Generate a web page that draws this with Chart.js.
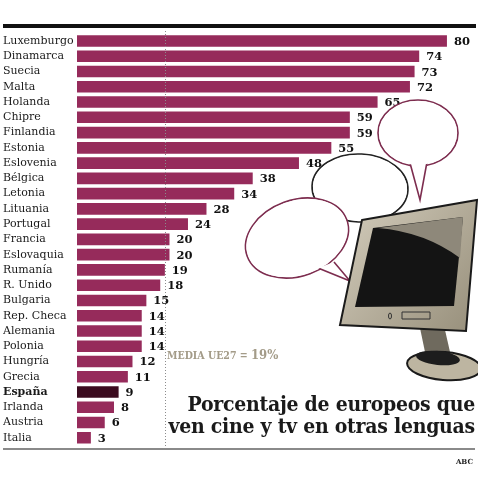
<!DOCTYPE html>
<html>
<head>
<meta charset="utf-8">
<script src="https://cdn.jsdelivr.net/npm/chart.js@4.4.1/dist/chart.umd.min.js"></script>
<style>
  html,body{margin:0;padding:0;background:#fff;}
  #wrap{position:relative;width:478px;height:499px;overflow:hidden;}
  canvas{position:absolute;left:0;top:0;}
  .title{position:absolute;right:3px;top:393px;text-align:right;font-family:"DejaVu Serif Condensed","DejaVu Serif",serif;font-weight:bold;font-size:21px;line-height:22px;color:#1a1a1a;white-space:nowrap;letter-spacing:-0.25px;}
  .media{position:absolute;left:167px;top:347px;font-family:"DejaVu Serif Condensed","DejaVu Serif",serif;font-weight:bold;color:#a39b88;font-size:10.5px;white-space:nowrap;}
  .media b{font-size:13px;font-weight:bold;}
  .abc{position:absolute;right:5px;top:457px;font-family:"DejaVu Serif",serif;font-weight:bold;font-size:7px;color:#222;}
  .topline{position:absolute;left:3px;top:24px;width:473px;height:4px;background:#111;}
  .botline{position:absolute;left:3px;top:448px;width:472px;height:2px;background:#8a8a8a;}
</style>
</head>
<body>
<div id="wrap">
  <canvas id="c" width="478" height="499"></canvas>
  <div class="topline"></div>
  <div class="botline"></div>
  <div class="media">MEDIA UE27 = <b>19%</b></div>
  <div class="title">Porcentaje de europeos que<br>ven cine y tv en otras lenguas</div>
  <div class="abc">ABC</div>
</div>
<script>
const categories = ["Luxemburgo","Dinamarca","Suecia","Malta","Holanda","Chipre","Finlandia","Estonia","Eslovenia","Bélgica","Letonia","Lituania","Portugal","Francia","Eslovaquia","Rumanía","R. Unido","Bulgaria","Rep. Checa","Alemania","Polonia","Hungría","Grecia","España","Irlanda","Austria","Italia"];
const values = [80,74,73,72,65,59,59,55,48,38,34,28,24,20,20,19,18,15,14,14,14,12,11,9,8,6,3];
const highlight = "España";
const mediaUE27 = 19;

const barColor = "#962b5b";
const highlightColor = "#3b0b1f";

const valueLabels = {
  id: "valueLabels",
  afterDatasetsDraw(chart) {
    const ctx = chart.ctx;
    const meta = chart.getDatasetMeta(0);
    ctx.save();
    ctx.font = "bold 11.5px 'DejaVu Serif', serif";
    ctx.fillStyle = "#111";
    ctx.textBaseline = "middle";
    ctx.textAlign = "left";
    meta.data.forEach((bar, i) => {
      ctx.fillText(String(values[i]), bar.x + 7, bar.y + 1);
    });
    ctx.restore();
  }
};

const mediaLine = {
  id: "mediaLine",
  afterDatasetsDraw(chart) {
    const ctx = chart.ctx;
    const x = chart.scales.x.getPixelForValue(mediaUE27);
    ctx.save();
    ctx.strokeStyle = "#8c8c8c";
    ctx.lineWidth = 1;
    ctx.setLineDash([1, 2]);
    ctx.beginPath();
    ctx.moveTo(Math.round(x) + 0.5, 31);
    ctx.lineTo(Math.round(x) + 0.5, 446);
    ctx.stroke();
    ctx.restore();
  }
};

function ellipse(ctx, cx, cy, rx, ry, rot, stroke) {
  ctx.beginPath();
  ctx.ellipse(cx, cy, rx, ry, rot, 0, Math.PI * 2);
  ctx.fillStyle = "#fff";
  ctx.fill();
  ctx.strokeStyle = stroke;
  ctx.lineWidth = 1.6;
  ctx.stroke();
}
function tail(ctx, pts, stroke) {
  ctx.beginPath();
  ctx.moveTo(pts[0][0], pts[0][1]);
  ctx.lineTo(pts[1][0], pts[1][1]);
  ctx.lineTo(pts[2][0], pts[2][1]);
  ctx.fillStyle = "#fff";
  ctx.fill();
  ctx.strokeStyle = stroke;
  ctx.lineWidth = 1.6;
  ctx.stroke();
}

const illustration = {
  id: "illustration",
  afterDraw(chart) {
    const ctx = chart.ctx;
    ctx.save();
    const mag = "#7d2d4f";
    // bubble 1
    ellipse(ctx, 418, 133, 40, 33, 0, mag);
    tail(ctx, [[410, 163], [420, 200], [427, 162]], mag);
    ctx.beginPath(); ctx.ellipse(418, 133, 39, 32, 0, 0, Math.PI * 2); ctx.fillStyle = "#fff"; ctx.fill();
    // bubble 2
    ellipse(ctx, 360, 188, 48, 34, 0.05, "#222");
    tail(ctx, [[362, 219], [374, 234], [380, 217]], "#222");
    ctx.beginPath(); ctx.ellipse(360, 188, 47, 33, 0.05, 0, Math.PI * 2); ctx.fillStyle = "#fff"; ctx.fill();
    // bubble 3
    ellipse(ctx, 297, 238, 53, 38, -0.35, mag);
    tail(ctx, [[318, 268], [350, 281], [334, 262]], mag);
    ctx.beginPath(); ctx.ellipse(297, 238, 52, 37, -0.35, 0, Math.PI * 2); ctx.fillStyle = "#fff"; ctx.fill();

    // monitor stand
    ctx.beginPath();
    ctx.moveTo(420, 328); ctx.lineTo(445, 330); ctx.lineTo(450, 352); ctx.lineTo(425, 352); ctx.closePath();
    ctx.fillStyle = "#6f6a5e"; ctx.fill();
    ctx.beginPath();
    ctx.ellipse(444, 366, 37, 14, 0.08, 0, Math.PI * 2);
    ctx.fillStyle = "#bdb5a1"; ctx.fill();
    ctx.strokeStyle = "#1a1a1a"; ctx.lineWidth = 2; ctx.stroke();
    ctx.beginPath();
    ctx.ellipse(438, 358, 22, 7, 0.1, 0, Math.PI * 2);
    ctx.fillStyle = "#1d1d1d"; ctx.fill();

    // bezel
    ctx.beginPath();
    ctx.moveTo(362, 220); ctx.lineTo(477, 200); ctx.lineTo(466, 331); ctx.lineTo(340, 325); ctx.closePath();
    const g = ctx.createLinearGradient(340, 220, 477, 330);
    g.addColorStop(0, "#d0c9b8"); g.addColorStop(1, "#978f7b");
    ctx.fillStyle = g; ctx.fill();
    ctx.strokeStyle = "#1a1a1a"; ctx.lineWidth = 2; ctx.stroke();
    // screen
    ctx.beginPath();
    ctx.moveTo(373, 228); ctx.lineTo(463, 217); ctx.lineTo(454, 306); ctx.lineTo(355, 307); ctx.closePath();
    ctx.fillStyle = "#141414"; ctx.fill();
    // highlight
    ctx.beginPath();
    ctx.moveTo(378, 228); ctx.lineTo(463, 217); ctx.lineTo(460, 258);
    ctx.quadraticCurveTo(425, 232, 378, 228); ctx.closePath();
    ctx.fillStyle = "#8e887a"; ctx.fill();
    // buttons
    ctx.strokeStyle = "#333"; ctx.lineWidth = 1;
    ctx.beginPath(); ctx.ellipse(390, 316, 1.5, 3, 0, 0, Math.PI * 2); ctx.stroke();
    ctx.beginPath(); ctx.rect(402, 312, 28, 7); ctx.stroke();
    ctx.restore();
  }
};

new Chart(document.getElementById("c"), {
  type: "bar",
  data: {
    labels: categories,
    datasets: [{
      data: values,
      backgroundColor: categories.map(c => c === highlight ? highlightColor : barColor),
      borderWidth: 0,
      categoryPercentage: 1,
      barPercentage: 0.76
    }]
  },
  options: {
    indexAxis: "y",
    responsive: false,
    animation: false,
    layout: { padding: { left: 3, right: 1, top: 33.4, bottom: 53.6 } },
    plugins: { legend: { display: false }, tooltip: { enabled: false }, title: { display: false } },
    scales: {
      x: { display: false, min: 0, max: 86.5 },
      y: {
        grid: { display: false },
        border: { display: false },
        afterFit(scale) { scale.width = 74; },
        ticks: {
          crossAlign: "far",
          padding: 0,
          color: "#1a1a1a",
          autoSkip: false,
          font: (ctx) => ({
            family: "'DejaVu Serif', serif",
            size: 11,
            weight: categories[ctx.index] === highlight ? "bold" : "normal"
          })
        }
      }
    }
  },
  plugins: [valueLabels, mediaLine, illustration]
});
</script>
</body>
</html>
